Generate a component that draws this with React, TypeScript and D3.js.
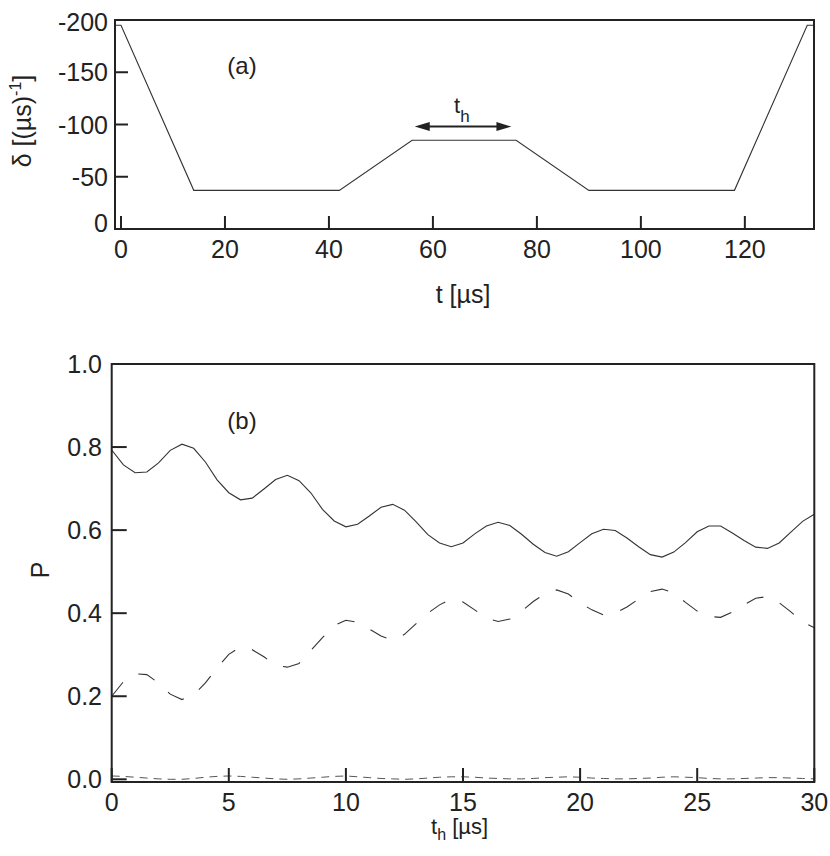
import React from "react";
import * as d3 from "d3";

// ---- Panel (a) data ----
const pulseT = [-1.15, 0, 14, 42, 56, 76, 90, 118, 132, 133.3];
const pulseDelta = [-195, -195, -37, -37, -85, -85, -37, -37, -195, -195];
const aXTicks = [0, 20, 40, 60, 80, 100, 120];
const aYTicks = [0, -50, -100, -150, -200];
const arrowT = [56.5, 75.1];
const arrowDelta = -98;

// ---- Panel (b) data ----
const th = [
  0, 0.5, 1, 1.5, 2, 2.5, 3, 3.5, 4, 4.5, 5, 5.5, 6, 6.5, 7, 7.5, 8, 8.5, 9, 9.5,
  10, 10.5, 11, 11.5, 12, 12.5, 13, 13.5, 14, 14.5, 15, 15.5, 16, 16.5, 17, 17.5,
  18, 18.5, 19, 19.5, 20, 20.5, 21, 21.5, 22, 22.5, 23, 23.5, 24, 24.5, 25, 25.5,
  26, 26.5, 27, 27.5, 28, 28.5, 29, 29.5, 30,
];
const pSolid = [
  0.793, 0.757, 0.738, 0.74, 0.762, 0.792, 0.807, 0.797, 0.764, 0.721, 0.69, 0.673,
  0.677, 0.699, 0.722, 0.732, 0.719, 0.69, 0.65, 0.622, 0.608, 0.614, 0.634, 0.655,
  0.662, 0.648, 0.62, 0.589, 0.569, 0.56, 0.569, 0.591, 0.61, 0.619, 0.611, 0.59,
  0.566, 0.546, 0.537, 0.548, 0.57, 0.591, 0.602, 0.599, 0.581, 0.56, 0.541, 0.535,
  0.547, 0.57, 0.596, 0.61, 0.61, 0.593, 0.575, 0.559, 0.556, 0.569, 0.595, 0.621,
  0.638,
];
const pDashed = [
  0.2, 0.235, 0.254, 0.252, 0.232, 0.205, 0.192, 0.203, 0.232, 0.268, 0.301, 0.319,
  0.312, 0.295, 0.274, 0.27, 0.279, 0.31, 0.341, 0.37, 0.383, 0.378, 0.362, 0.345,
  0.335, 0.349, 0.375, 0.4, 0.42, 0.434, 0.427, 0.408, 0.388, 0.38, 0.386, 0.405,
  0.428, 0.447, 0.456, 0.446, 0.425, 0.408, 0.396, 0.4, 0.415, 0.434, 0.452, 0.458,
  0.449, 0.426, 0.405, 0.392, 0.39, 0.403, 0.42, 0.436, 0.44, 0.425, 0.403, 0.379,
  0.365,
];
const pShort = [
  0.008, 0.007, 0.005, 0.003, 0.001, 0.0, 0.0, 0.002, 0.005, 0.007, 0.008, 0.007,
  0.005, 0.003, 0.001, 0.0, 0.001, 0.003, 0.005, 0.007, 0.008, 0.006, 0.004, 0.002,
  0.001, 0.0, 0.001, 0.003, 0.005, 0.006, 0.006, 0.005, 0.003, 0.002, 0.001, 0.001,
  0.002, 0.004, 0.005, 0.006, 0.005, 0.003, 0.002, 0.001, 0.001, 0.002, 0.003, 0.005,
  0.006, 0.005, 0.004, 0.002, 0.001, 0.001, 0.002, 0.003, 0.004, 0.004, 0.003, 0.002,
  0.001,
];
const bXTicks = [0, 5, 10, 15, 20, 25, 30];
const bYTicks = [0, 0.2, 0.4, 0.6, 0.8, 1.0];

const FONT = "'Liberation Sans', Arial, Helvetica, sans-serif";
const INK = "#222";

export default function App() {
  // Panel (a) scales
  const ax = d3.scaleLinear().domain([-1.15, 133.3]).range([115, 814]);
  const ay = d3.scaleLinear().domain([0, -200]).range([229, 20]);
  // Panel (b) scales
  const bx = d3.scaleLinear().domain([0, 30]).range([111.7, 814.3]);
  const by = d3.scaleLinear().domain([0, 1]).range([779.3, 364]);
  const bBottom = 782;

  const pulseLine = d3
    .line<number>()
    .x((_, i) => ax(pulseT[i]))
    .y((d) => ay(d));

  const mkLine = (vals: number[]) =>
    d3
      .line<number>()
      .x((_, i) => bx(th[i]))
      .y((d) => by(d))(vals) as string;

  const ayTop = ay(-200);
  const ayBot = ay(0);
  const axL = ax.range()[0];
  const axR = ax.range()[1];

  const arrY = ay(arrowDelta);
  const arrX1 = ax(arrowT[0]);
  const arrX2 = ax(arrowT[1]);

  return (
    <svg
      width={830}
      height={856}
      style={{ position: "absolute", left: 0, top: 0, background: "#fff" }}
      fontFamily={FONT}
    >
      <rect x={0} y={0} width={830} height={856} fill="#fff" />
      {/* ===== Panel (a) ===== */}
      <path d={pulseLine(pulseDelta) as string} fill="none" stroke="#333" strokeWidth={1.1} />
      <rect
        x={axL}
        y={ayTop}
        width={axR - axL}
        height={ayBot - ayTop}
        fill="none"
        stroke={INK}
        strokeWidth={2}
      />
      {aXTicks.map((t) => (
        <g key={"ax" + t}>
          <line x1={ax(t)} x2={ax(t)} y1={ayBot} y2={ayBot - 13} stroke={INK} strokeWidth={2} />
          <text x={ax(t)} y={258} fontSize={25} textAnchor="middle" fill={INK}>
            {t}
          </text>
        </g>
      ))}
      {aYTicks.map((v) => (
        <g key={"ay" + v}>
          <line x1={axL} x2={axL + 13} y1={ay(v)} y2={ay(v)} stroke={INK} strokeWidth={2} />
          <text
            x={108}
            y={ay(v) + (v === 0 ? -6 : v === -200 ? 2 : 0)}
            fontSize={25}
            textAnchor="end"
            dominantBaseline="central"
            fill={INK}
          >
            {v}
          </text>
        </g>
      ))}
      <text x={242} y={74} fontSize={24} textAnchor="middle" fill={INK}>
        (a)
      </text>
      {/* arrow t_h */}
      <line x1={arrX1 + 12} x2={arrX2 - 12} y1={arrY} y2={arrY} stroke={INK} strokeWidth={2} />
      <path
        d={`M${arrX1},${arrY} L${arrX1 + 15},${arrY - 4.5} L${arrX1 + 15},${arrY + 4.5} Z`}
        fill={INK}
      />
      <path
        d={`M${arrX2},${arrY} L${arrX2 - 15},${arrY - 4.5} L${arrX2 - 15},${arrY + 4.5} Z`}
        fill={INK}
      />
      <text x={454} y={113} fontSize={22} fill={INK}>
        t
        <tspan fontSize={17} dy={9}>
          h
        </tspan>
      </text>
      <text x={463} y={303} fontSize={25} textAnchor="middle" fill={INK}>
        t [µs]
      </text>
      <text
        transform={`translate(31,121) rotate(-90)`}
        fontSize={25}
        textAnchor="middle"
        fill={INK}
      >
        δ [(µs)
        <tspan fontSize={16} dy={-10}>
          -1
        </tspan>
        <tspan dy={10}>]</tspan>
      </text>

      {/* ===== Panel (b) ===== */}
      <path d={mkLine(pSolid)} fill="none" stroke="#333" strokeWidth={1.1} />
      <path
        d={mkLine(pDashed)}
        fill="none"
        stroke="#333"
        strokeWidth={1.1}
        strokeDasharray="18 18"
      />
      <path
        d={mkLine(pShort)}
        fill="none"
        stroke="#555"
        strokeWidth={1}
        strokeDasharray="8 6"
      />
      <rect
        x={bx(0)}
        y={by(1)}
        width={bx(30) - bx(0)}
        height={bBottom - by(1)}
        fill="none"
        stroke={INK}
        strokeWidth={2}
      />
      {bXTicks.map((t) => (
        <g key={"bx" + t}>
          <line x1={bx(t)} x2={bx(t)} y1={bBottom} y2={bBottom - 14} stroke={INK} strokeWidth={2} />
          <text x={bx(t)} y={811} fontSize={25} textAnchor="middle" fill={INK}>
            {t}
          </text>
        </g>
      ))}
      {bYTicks.map((v) => (
        <g key={"by" + v}>
          <line x1={bx(0)} x2={bx(0) + 15} y1={by(v)} y2={by(v)} stroke={INK} strokeWidth={2} />
          <text
            x={102}
            y={by(v)}
            fontSize={25}
            textAnchor="end"
            dominantBaseline="central"
            fill={INK}
          >
            {v.toFixed(1)}
          </text>
        </g>
      ))}
      <text x={242} y={429} fontSize={24} textAnchor="middle" fill={INK}>
        (b)
      </text>
      <text x={431} y={834} fontSize={22} fill={INK}>
        t
        <tspan fontSize={16} dy={6}>
          h
        </tspan>
        <tspan dy={-6}> [µs]</tspan>
      </text>
      <text
        transform={`translate(49,570) rotate(-90)`}
        fontSize={25}
        textAnchor="middle"
        fill={INK}
      >
        P
      </text>
    </svg>
  );
}
